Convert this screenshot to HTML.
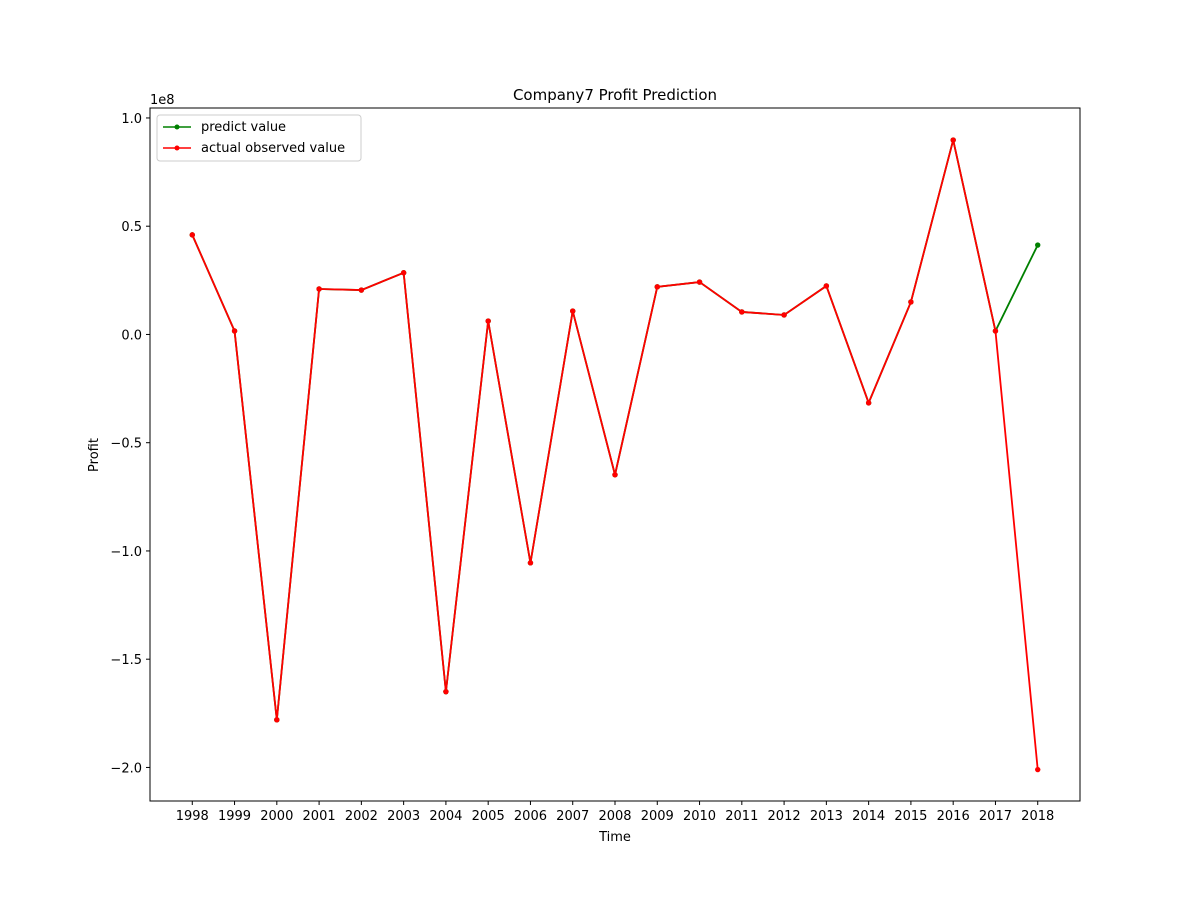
<!DOCTYPE html>
<html><head><meta charset="utf-8"><style>
body{margin:0;background:#fff;font-family:"Liberation Sans","DejaVu Sans",sans-serif}
svg text{font-family:"DejaVu Sans","Liberation Sans",sans-serif;font-size:13px;fill:#000}
</style></head><body>
<svg id="chart" width="1200" height="900" xmlns="http://www.w3.org/2000/svg">
<rect width="1200" height="900" fill="#fff"/>
<text x="615" y="100" text-anchor="middle" style="font-size:15px">Company7 Profit Prediction</text>
<g id="grid"></g>
<g id="series"></g>
<rect x="150" y="108" width="930" height="693" fill="none" stroke="#000" stroke-width="1"/>
<text x="150" y="104">1e8</text>
<text x="615" y="841" text-anchor="middle">Time</text>
<text transform="translate(98,455) rotate(-90)" text-anchor="middle">Profit</text>
<g>
<rect x="157" y="115" width="204" height="46" fill="#fff" stroke="#ccc" rx="3"/>
<line x1="163" y1="127" x2="191" y2="127" stroke="green" stroke-width="1.5"/><circle cx="177" cy="127" r="2.5" fill="green"/>
<text x="201" y="131">predict value</text>
<line x1="163" y1="148" x2="191" y2="148" stroke="red" stroke-width="1.5"/><circle cx="177" cy="148" r="2.5" fill="red"/>
<text x="201" y="152">actual observed value</text>
</g>
</svg>
<script>
const years=[1998,1999,2000,2001,2002,2003,2004,2005,2006,2007,2008,2009,2010,2011,2012,2013,2014,2015,2016,2017,2018];
const actual=[0.46,0.016,-1.78,0.21,0.205,0.285,-1.65,0.062,-1.055,0.108,-0.648,0.22,0.242,0.104,0.09,0.224,-0.316,0.15,0.898,0.016,-2.01];
const predict=[0.46,0.016,-1.78,0.21,0.205,0.285,-1.65,0.062,-1.055,0.108,-0.648,0.22,0.242,0.104,0.09,0.224,-0.316,0.15,0.898,0.016,0.413];
const yTicks=[1.0,0.5,0.0,-0.5,-1.0,-1.5,-2.0];
const yTickLabels=["1.0","0.5","0.0","\u22120.5","\u22121.0","\u22121.5","\u22122.0"];
const NS="http://www.w3.org/2000/svg";
const x=v=>150+(v-1997)/22*930;
const y=v=>108+(1.046-v)/(1.046+2.155)*693;
const g=document.getElementById('grid'),s=document.getElementById('series');
function mk(t,a,p){const e=document.createElementNS(NS,t);for(const k in a)e.setAttribute(k,a[k]);p.appendChild(e);return e;}
yTicks.forEach((v,i)=>{const l=mk('line',{x1:146,x2:150,y1:y(v),y2:y(v),stroke:'#000'},g);


const t=mk('text',{x:142,y:y(v)+5,'text-anchor':'end'},g);t.textContent=yTickLabels[i];

});
years.forEach(v=>{const l=mk('line',{x1:x(v),x2:x(v),y1:801,y2:805,stroke:'#000'},g);


const t=mk('text',{x:x(v),y:820,'text-anchor':'middle'},g);t.textContent=v;

});
function series(vals,col,name){const p=mk('polyline',{points:vals.map((v,i)=>x(years[i])+','+y(v)).join(' '),fill:'none',stroke:col,'stroke-width':1.8},s);


vals.forEach((v,i)=>{const c=mk('circle',{cx:x(years[i]),cy:y(v),r:2.7,fill:col},s);

});}
series(predict,'green','predict');
series(actual,'red','actual');
</script>
</body></html>
